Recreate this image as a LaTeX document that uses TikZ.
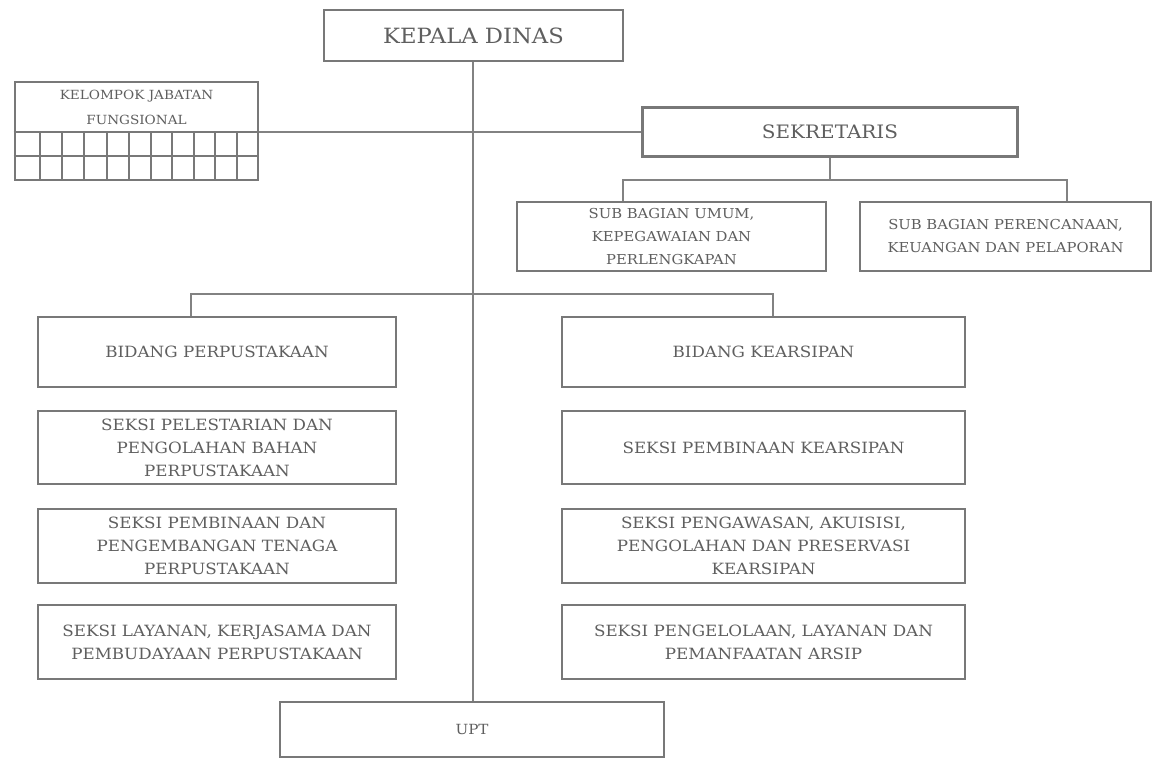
\documentclass[tikz,border=0pt]{standalone}
\usepackage{fontspec}
\setmainfont{DejaVu Serif}[FakeStretch=1.08]
\definecolor{boxc}{RGB}{120,120,120}
\definecolor{linec}{RGB}{130,130,130}
\definecolor{txtc}{RGB}{95,95,95}
\tikzset{
  box/.style={draw=boxc, line width=2.6pt, fill=white, inner sep=0pt, align=center, text=txtc},
  conn/.style={draw=linec, line width=1.5pt},
  grid line/.style={draw=boxc, line width=1.6pt},
  bigtxt/.style={font=\fontsize{21}{24}\selectfont},
  midtxt/.style={font=\fontsize{18.5}{22}\selectfont},
  smalltxt/.style={font=\fontsize{13.7}{23}\selectfont},
  coltxt/.style={font=\fontsize{15.5}{23}\selectfont},
  upttxt/.style={font=\fontsize{14}{17}\selectfont},
  tinytxt/.style={font=\fontsize{12.6}{25}\selectfont}
}
\begin{document}
\begin{tikzpicture}[x=1pt,y=-1pt]
\path[fill=white] (0,0) rectangle (1152,759);
\useasboundingbox (0,0) rectangle (1152,759);

% head and UPT, joined by the trunk
\node[box, bigtxt, minimum width=299pt, minimum height=51pt] (kd) at (473.5,35.5) {KEPALA DINAS};
\node[box, upttxt, minimum width=384pt, minimum height=55pt] (upt) at (472,729.5) {UPT};
\coordinate (tr1) at (kd.south -| 473,0);
\coordinate (tr2) at (upt.north -| 473,0);
\draw[conn] (tr1) -- (tr2);

% Kelompok Jabatan Fungsional
\node[box, minimum width=243pt, minimum height=98pt] (kjf) at (136.5,131) {};
\node[text=txtc, tinytxt, align=center] (kjft) at (136.5,107) {KELOMPOK JABATAN\\FUNGSIONAL};
\draw[grid line] (kjf.west |- 0,132) coordinate (g1) -- (kjf.east |- 0,132) coordinate (g2);
\draw[grid line] (kjf.west |- 0,156) -- (kjf.east |- 0,156);
\foreach \gx in {40,62,84,107,129,151,172,194,215,237}
  \draw[grid line] (\gx,132) -- (\gx,180);

% Sekretaris
\node[box, midtxt, minimum width=375pt, minimum height=49pt] (sek) at (830,132) {SEKRETARIS};
\draw[conn] (g2) -- (sek.west |- g2);

\node[box, smalltxt, minimum width=309pt, minimum height=69pt] (subu) at (671.5,236.5) {SUB BAGIAN UMUM,\\KEPEGAWAIAN DAN\\PERLENGKAPAN};
\node[box, smalltxt, minimum width=291pt, minimum height=69pt] (subp) at (1005.5,236.5) {SUB BAGIAN PERENCANAAN,\\KEUANGAN DAN PELAPORAN};
\coordinate (sj) at (sek.south |- 0,180);
\coordinate (sl) at (623,180);
\coordinate (sr) at (1067,180);
\draw[conn] (sek.south) -- (sj);
\draw[conn] (sl |- subu.north) -- (sl) -- (sr) -- (sr |- subp.north);

% Bidang
\node[box, coltxt, minimum width=358pt, minimum height=70pt] (bp) at (217,352) {BIDANG PERPUSTAKAAN};
\node[box, coltxt, minimum width=403pt, minimum height=70pt] (bk) at (763.5,352) {BIDANG KEARSIPAN};
\coordinate (bl) at (191,294);
\coordinate (br) at (773,294);
\draw[conn] (bl |- bp.north) -- (bl) -- (br) -- (br |- bk.north);

\node[box, coltxt, minimum width=358pt, minimum height=73pt] (p1) at (217,447.5) {SEKSI PELESTARIAN DAN\\PENGOLAHAN BAHAN\\PERPUSTAKAAN};
\node[box, coltxt, minimum width=358pt, minimum height=74pt] (p2) at (217,546) {SEKSI PEMBINAAN DAN\\PENGEMBANGAN TENAGA\\PERPUSTAKAAN};
\node[box, coltxt, minimum width=358pt, minimum height=74pt] (p3) at (217,642) {SEKSI LAYANAN, KERJASAMA DAN\\PEMBUDAYAAN PERPUSTAKAAN};

\node[box, coltxt, minimum width=403pt, minimum height=73pt] (k1) at (763.5,447.5) {SEKSI PEMBINAAN KEARSIPAN};
\node[box, coltxt, minimum width=403pt, minimum height=74pt] (k2) at (763.5,546) {SEKSI PENGAWASAN, AKUISISI,\\PENGOLAHAN DAN PRESERVASI\\KEARSIPAN};
\node[box, coltxt, minimum width=403pt, minimum height=74pt] (k3) at (763.5,642) {SEKSI PENGELOLAAN, LAYANAN DAN\\PEMANFAATAN ARSIP};
\end{tikzpicture}
\end{document}
